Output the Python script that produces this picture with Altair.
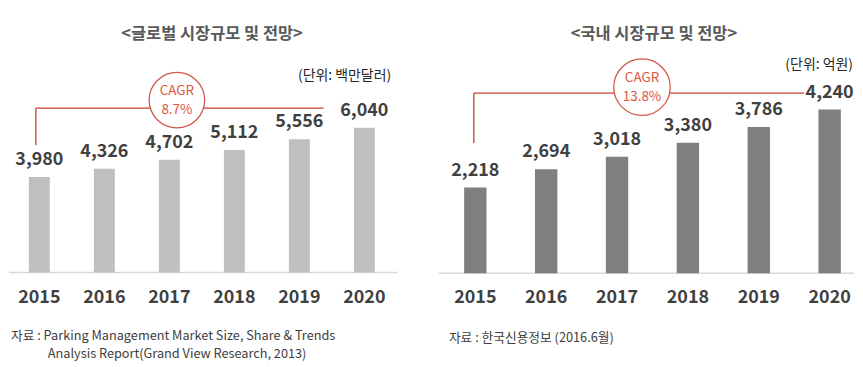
import altair as alt
import pandas as pd

# ---------------- data ----------------
years = [2015, 2016, 2017, 2018, 2019, 2020]
global_values = [3980, 4326, 4702, 5112, 5556, 6040]
domestic_values = [2218, 2694, 3018, 3380, 3786, 4240]

global_title = "<글로벌 시장규모 및 전망>"
domestic_title = "<국내 시장규모 및 전망>"
global_unit = "(단위: 백만달러)"
domestic_unit = "(단위: 억원)"
global_cagr = ["CAGR", "8.7%"]
domestic_cagr = ["CAGR", "13.8%"]
global_source = ["자료 : Parking Management Market Size, Share & Trends",
                 "Analysis Report(Grand View Research, 2013)"]
domestic_source = ["자료 : 한국신용정보  (2016.6월)"]

FONT = "Noto Sans CJK KR"
H = 350
LINE_RED = "#c8412f"
CIRCLE_RED = "#d0574b"
TEXT_RED = "#e0553f"
DARK = "#404040"


def one():
    return pd.DataFrame({"a": [0]})


def text_item(txt, x, y, size, color, weight="normal", align="center",
              baseline="middle", font=FONT):
    return alt.Chart(one()).mark_text(
        font=font, fontSize=size, color=color, fontWeight=weight,
        align=align, baseline=baseline, text=txt,
    ).encode(x=alt.value(x), y=alt.value(y))


def panel(vals, color, width, xdom, ydom, bar_w, title, title_x, unit, unit_x, unit_y,
          cagr, circ, circ_size, line_y, line_x0, line_x1, vline_y1, sources):
    df = pd.DataFrame({
        "year": years,
        "value": vals,
        "zero": [0] * len(vals),
        "label": [f"{v:,}" for v in vals],
        "ylabel": [str(y) for y in years],
    })
    xs = alt.Scale(domain=xdom, nice=False, zero=False, padding=0)
    ys = alt.Scale(domain=ydom, nice=False, zero=False, padding=0)
    x = alt.X("year:Q", scale=xs, axis=None)
    y = alt.Y("value:Q", scale=ys, axis=None)

    base_df = pd.DataFrame({"zero": [0]})
    baseline = alt.Chart(base_df).mark_rule(color="#d9d9d9", strokeWidth=1.5).encode(
        x=alt.value(0), x2=alt.value(width),
        y=alt.Y("zero:Q", scale=ys, axis=None),
    )
    bars = alt.Chart(df).mark_bar(size=bar_w, color=color).encode(
        x=x, y=y, y2="zero:Q"
    )
    labels = alt.Chart(df).mark_text(
        font=FONT, fontSize=18, fontWeight="bold", color=DARK, dy=-17, baseline="middle"
    ).encode(x=x, y=y, text="label:N")
    year_labels = alt.Chart(df).mark_text(
        font=FONT, fontSize=18, fontWeight="bold", color=DARK, baseline="middle"
    ).encode(x=x, y=alt.value(291), text="ylabel:N")

    hline = alt.Chart(one()).mark_rule(color=LINE_RED, strokeWidth=1.3).encode(
        x=alt.value(line_x0), x2=alt.value(line_x1), y=alt.value(line_y)
    )
    vline = alt.Chart(one()).mark_rule(color=LINE_RED, strokeWidth=1.3).encode(
        x=alt.value(line_x0), y=alt.value(line_y), y2=alt.value(vline_y1)
    )
    circle = alt.Chart(one()).mark_point(
        shape="circle", filled=True, fill="white", stroke=CIRCLE_RED,
        strokeWidth=1.3, size=circ_size, opacity=1,
    ).encode(x=alt.value(circ[0]), y=alt.value(circ[1]))
    c1 = text_item(cagr[0], circ[0], circ[1] - 9.5, 13.5, TEXT_RED)
    c2 = text_item(cagr[1], circ[0], circ[1] + 9.5, 13.5, TEXT_RED)

    ttl = text_item(title, title_x, 25, 16.5, "#595959", weight="bold")
    unt = text_item(unit, unit_x, unit_y, 14, "#262626", align="right")

    layers = [baseline, bars, labels, year_labels, hline, vline, circle, c1, c2, ttl, unt]
    for s in sources:
        layers.append(text_item(s[0], s[1], s[2], 12.8, DARK, align="left"))
    return alt.layer(*layers).properties(width=width, height=H)


left = panel(
    global_values, "#bfbfbf", 390, [2014.533, 2020.505], [-3527, 10996], 21,
    global_title, 204, global_unit, 384, 68,
    global_cagr, (168.7, 91.7), 3117, 99.7, 27, 316, 137,
    [(global_source[0], 2, 329), (global_source[1], 39, 347)],
)
right = panel(
    domestic_values, "#7f7f7f", 417, [2014.487, 2020.344], [-2173, 6848], 22.5,
    domestic_title, 216, domestic_unit, 416, 56,
    domestic_cagr, (204, 78.7), 3217, 84.7, 35, 367, 134.7,
    [(domestic_source[0], 10, 331)],
)

chart = alt.hconcat(left, right, spacing=40).properties(
    padding=0
).configure_view(stroke=None)

chart.save("out.html", embed_options={"renderer": "svg", "actions": False})
